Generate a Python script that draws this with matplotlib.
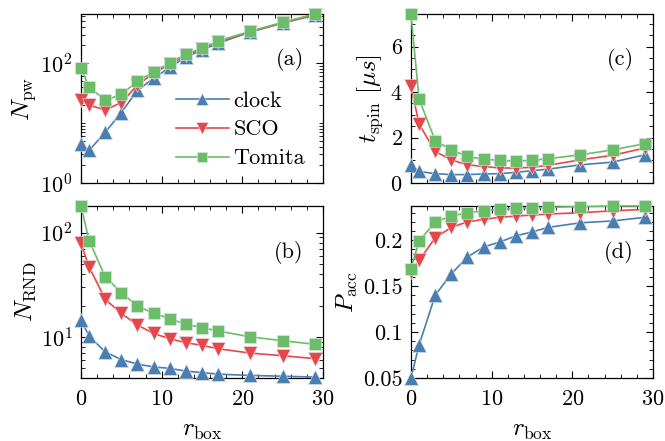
import matplotlib
matplotlib.use("Agg")
import matplotlib.pyplot as plt
from matplotlib.ticker import MultipleLocator, LogLocator, FormatStrFormatter, NullFormatter, FixedLocator

plt.rcParams["font.family"] = "cmr10"
plt.rcParams["mathtext.fontset"] = "cm"
plt.rcParams["axes.formatter.use_mathtext"] = True

r_box = [0, 1, 3, 5, 7, 9, 11, 13, 15, 17, 21, 25, 29]

# (a) N_pw
npw_clock = [4.5, 3.5, 7, 15, 35, 56, 85, 126, 165, 215, 330, 465, 630]
npw_sco = [24, 20, 16.5, 22, 43, 68, 95, 135, 172, 225, 335, 470, 645]
npw_tomita = [83, 40, 24, 30, 50, 71, 100, 141, 178, 234, 340, 480, 660]

# (b) N_RND
nrnd_clock = [14.5, 10.2, 7.2, 6.05, 5.5, 5.15, 5.0, 4.7, 4.55, 4.4, 4.27, 4.2, 4.12]
nrnd_sco = [79, 47, 23, 16.8, 13, 10.8, 9.6, 8.8, 8.3, 7.7, 7.0, 6.6, 6.2]
nrnd_tomita = [180, 84, 37.8, 26.5, 19.8, 16.8, 15, 13.2, 12.3, 11.4, 10, 9.2, 8.5]

# (c) t_spin [us]
tspin_clock = [0.78, 0.51, 0.41, 0.37, 0.37, 0.40, 0.41, 0.47, 0.54, 0.61, 0.80, 0.92, 1.24]
tspin_sco = [4.27, 2.6, 1.39, 1.02, 0.80, 0.73, 0.66, 0.66, 0.69, 0.78, 1.02, 1.22, 1.54]
tspin_tomita = [7.44, 3.7, 1.87, 1.46, 1.17, 1.05, 1.0, 0.97, 1.0, 1.07, 1.24, 1.46, 1.73]

# (d) P_acc
pacc_clock = [0.05, 0.0858, 0.14, 0.1634, 0.1817, 0.1927, 0.198, 0.2048, 0.209, 0.214, 0.219, 0.221, 0.225]
pacc_sco = [0.165, 0.178, 0.2026, 0.214, 0.22, 0.2227, 0.225, 0.2263, 0.2274, 0.2285, 0.23, 0.232, 0.2337]
pacc_tomita = [0.169, 0.199, 0.22, 0.2263, 0.23, 0.232, 0.2337, 0.2348, 0.2355, 0.2359, 0.2366, 0.2373, 0.2373]

names = ["clock", "SCO", "Tomita"]
colors = ["#4a7eb0", "#e8474a", "#6bbd68"]
markers = ["^", "v", "s"]
msizes = [10, 10, 8.5]

fig = plt.figure(figsize=(6.65, 4.41), dpi=100)
W = 0.3639
ax_a = fig.add_axes([0.1218, 0.585, W, 0.3833])
ax_b = fig.add_axes([0.1218, 0.1429, W, 0.390])
ax_c = fig.add_axes([0.618, 0.585, W, 0.3833])
ax_d = fig.add_axes([0.618, 0.1429, W, 0.390])

panels = [
    (ax_a, [npw_clock, npw_sco, npw_tomita], "(a)"),
    (ax_b, [nrnd_clock, nrnd_sco, nrnd_tomita], "(b)"),
    (ax_c, [tspin_clock, tspin_sco, tspin_tomita], "(c)"),
    (ax_d, [pacc_clock, pacc_sco, pacc_tomita], "(d)"),
]

for ax, series, tag in panels:
    for ys, name, c, m, ms in zip(series, names, colors, markers, msizes):
        ax.plot(r_box, ys, color=c, marker=m, markersize=ms, lw=1.2,
                markeredgecolor="#dde6ee", markeredgewidth=0.4,
                label=name, clip_on=False, zorder=3)
    ax.set_xlim(0, 30)
    ax.xaxis.set_major_locator(MultipleLocator(10))
    ax.xaxis.set_minor_locator(MultipleLocator(2))
    ax.tick_params(which="both", direction="in", top=True, right=True, labelsize=16, pad=6)
    ax.tick_params(axis="x", pad=8)
    ax.tick_params(which="major", length=5, width=0.8)
    ax.tick_params(which="minor", length=3, width=0.6)
    for sp in ax.spines.values():
        sp.set_linewidth(0.9)
    ax.text(0.92, 0.73, tag, transform=ax.transAxes, ha="right", va="center", fontsize=16)

for ax in (ax_a, ax_c):
    ax.tick_params(labelbottom=False)

ax_a.set_yscale("log")
ax_a.set_ylim(1, 660)
ax_a.yaxis.set_major_locator(FixedLocator([1, 100]))
ax_a.yaxis.set_minor_locator(LogLocator(base=10, subs=range(1, 10), numticks=20))
ax_a.yaxis.set_minor_formatter(NullFormatter())
ax_a.set_ylabel(r"$N_{\rm pw}$", fontsize=18, labelpad=2)
ax_a.legend(loc="lower right", frameon=False, fontsize=16, handlelength=2.4,
            handletextpad=0.2, labelspacing=0.42, markerscale=0.85,
            borderaxespad=0.3, bbox_to_anchor=(0.99, -0.005))

ax_b.set_yscale("log")
ax_b.set_ylim(4.04, 180)
ax_b.yaxis.set_major_locator(FixedLocator([10, 100]))
ax_b.yaxis.set_minor_locator(LogLocator(base=10, subs=range(2, 10), numticks=20))
ax_b.yaxis.set_minor_formatter(NullFormatter())
ax_b.set_ylabel(r"$N_{\rm RND}$", fontsize=18, labelpad=2)
ax_b.set_xlabel(r"$r_{\rm box}$", fontsize=18, labelpad=8)

ax_c.set_ylim(0, 7.44)
ax_c.yaxis.set_major_locator(MultipleLocator(2))
ax_c.yaxis.set_minor_locator(MultipleLocator(0.5))
ax_c.set_ylabel(r"$t_{\rm spin}\ [\mu s]$", fontsize=18, labelpad=4)

ax_d.set_ylim(0.05, 0.2373)
ax_d.yaxis.set_major_locator(MultipleLocator(0.05))
ax_d.yaxis.set_minor_locator(MultipleLocator(0.01))
ax_d.yaxis.set_major_formatter(FormatStrFormatter("%g"))
ax_d.set_ylabel(r"$P_{\rm acc}$", fontsize=18, labelpad=2)
ax_d.set_xlabel(r"$r_{\rm box}$", fontsize=18, labelpad=8)

fig.savefig("out.png", dpi=100)
plt.close(fig)
